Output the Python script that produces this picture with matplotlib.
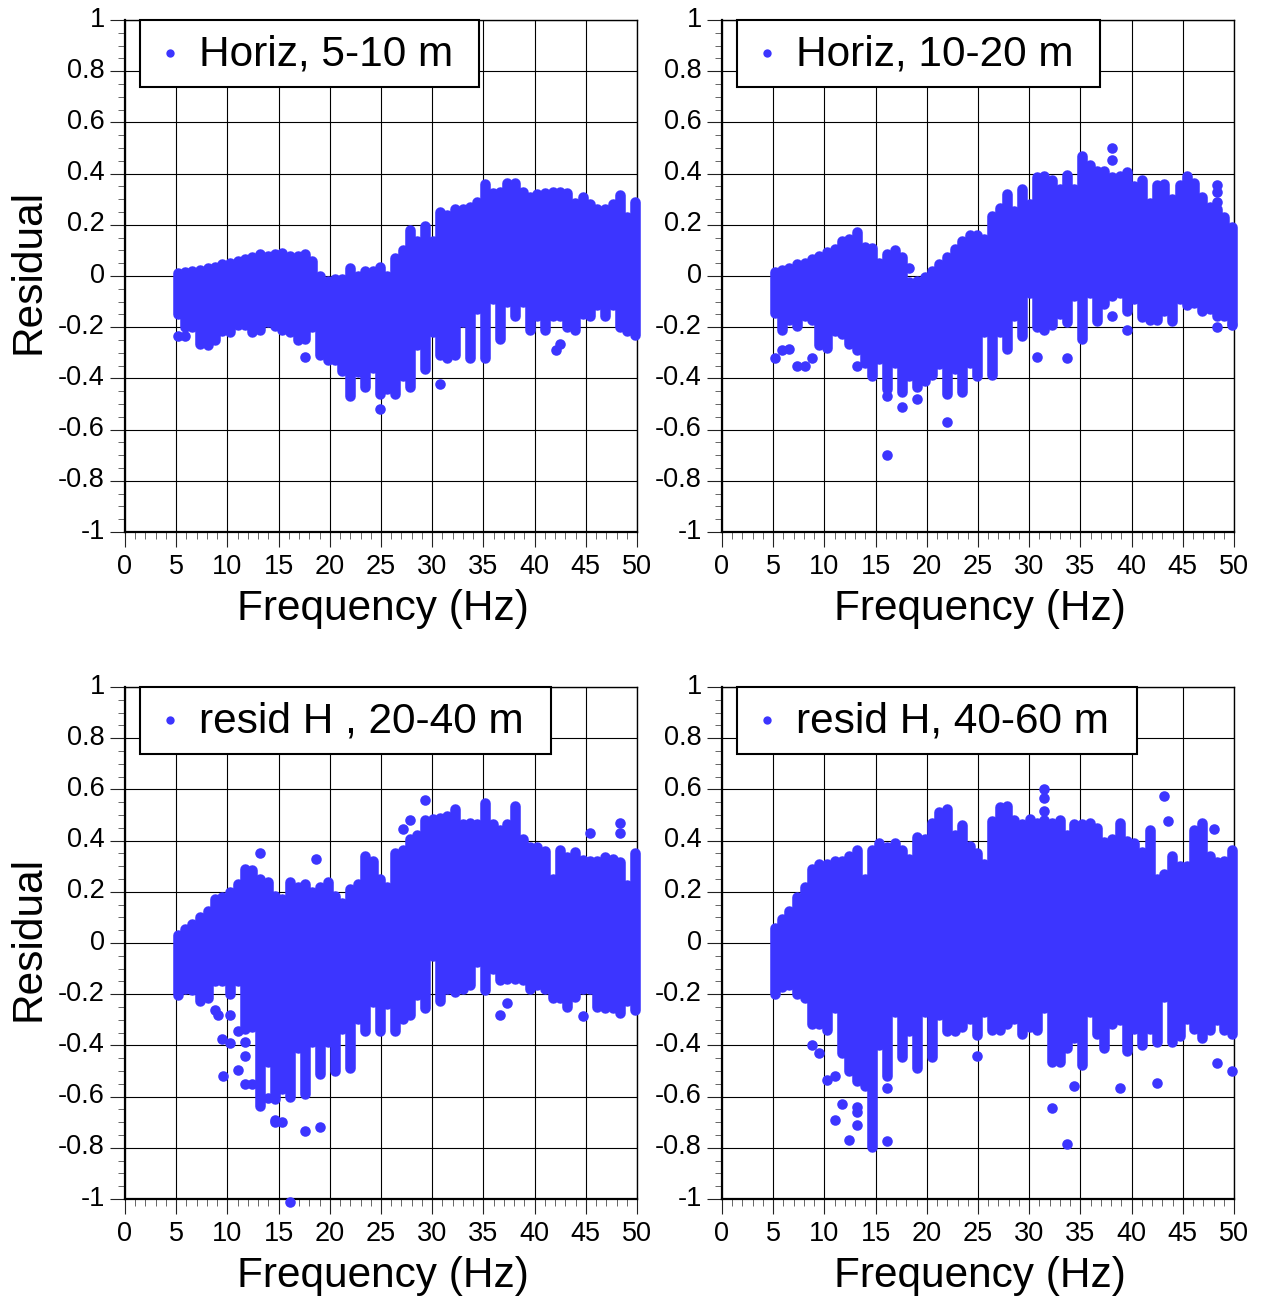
import matplotlib as mpl
mpl.use('agg')
import matplotlib.pyplot as plt
from matplotlib.patches import Rectangle
from matplotlib.transforms import ScaledTranslation

plt.rc('font', family=['Liberation Sans', 'DejaVu Sans'])

W, H = 1262, 1297
DOT = '#3c35ff'

# frequency columns of the measurements, Hz
freq = [5.13, 5.86, 6.59, 7.33, 8.06, 8.79, 9.52, 10.25, 10.99, 11.72,
        12.45, 13.18, 13.92, 14.65, 15.38, 16.11, 16.85, 17.58, 18.31, 19.04,
        19.78, 20.51, 21.24, 21.97, 22.71, 23.44, 24.17, 24.90, 25.63, 26.37,
        27.10, 27.83, 28.56, 29.30, 30.03, 30.76, 31.49, 32.23, 32.96, 33.69,
        34.42, 35.16, 35.89, 36.62, 37.35, 38.09, 38.82, 39.55, 40.28, 41.02,
        41.75, 42.48, 43.21, 43.95, 44.68, 45.41, 46.14, 46.88, 47.61, 48.34,
        49.07, 49.80]

# top and bottom of the dot column at each frequency
hi_a = [.01, .015, .02, .025, .03, .035, .045, .05, .06, .065,
        .075, .085, .08, .085, .09, .08, .08, .085, .06, 0,
        -.02, -.01, -.01, .03, 0, .02, .02, .035, 0, .07,
        .10, .18, .135, .195, .135, .25, .24, .26, .26, .27,
        .29, .36, .325, .33, .365, .365, .33, .31, .32, .325,
        .33, .33, .325, .285, .31, .28, .26, .26, .28, .315,
        .23, .29]
lo_a = [-.15, -.2, -.2, -.265, -.27, -.25, -.215, -.22, -.19, -.19,
        -.22, -.21, -.18, -.195, -.21, -.22, -.25, -.245, -.2, -.31,
        -.33, -.33, -.37, -.47, -.375, -.435, -.36, -.46, -.44, -.46,
        -.39, -.435, -.27, -.365, -.22, -.31, -.32, -.31, -.18, -.32,
        -.13, -.32, -.09, -.245, -.1, -.155, -.1, -.21, -.155, -.21,
        -.155, -.155, -.2, -.21, -.15, -.155, -.115, -.155, -.115, -.2,
        -.215, -.23]
out_f_a = [5.13, 5.86, 17.58, 24.90, 30.76, 42.10, 42.50]
out_r_a = [-.235, -.235, -.315, -.52, -.42, -.29, -.265]

hi_b = [.015, .025, .03, .045, .05, .065, .08, .095, .105, .135,
        .145, .17, .115, .11, .05, .085, .10, .075, -.025, -.02,
        -.005, .02, .045, .075, .105, .135, .16, .16, .145, .235,
        .265, .32, .255, .34, .28, .385, .39, .375, .34, .395,
        .34, .47, .435, .41, .41, .385, .39, .405, .35, .375,
        .285, .355, .36, .30, .355, .39, .365, .31, .27, .26,
        .23, .19]
lo_b = [-.145, -.21, -.17, -.195, -.155, -.17, -.27, -.28, -.215, -.225,
        -.265, -.29, -.34, -.39, -.325, -.44, -.34, -.455, -.39, -.435,
        -.41, -.385, -.345, -.46, -.365, -.455, -.34, -.39, -.22, -.385,
        -.22, -.285, -.155, -.235, -.065, -.2, -.21, -.19, -.15, -.18,
        -.08, -.245, -.065, -.175, -.11, -.08, -.065, -.135, -.09, -.16,
        -.17, -.17, -.135, -.175, -.09, -.115, -.105, -.135, -.13, -.155,
        -.155, -.185]
out_f_b = [18.31, 38.09, 38.09, 48.34, 48.34, 48.34, 5.13, 5.86, 6.59, 7.33,
           8.06, 8.79, 13.18, 16.11, 16.11, 17.58, 19.04, 21.97, 30.76, 33.69,
           38.09, 39.55, 48.34, 49.80]
out_r_b = [.03, .50, .455, .355, .33, .29, -.32, -.29, -.285, -.35,
           -.35, -.32, -.35, -.47, -.70, -.51, -.48, -.57, -.315, -.32,
           -.155, -.21, -.20, -.19]

hi_c = [.03, .055, .075, .10, .125, .17, .18, .20, .23, .29,
        .285, .25, .24, .185, .17, .24, .22, .23, .20, .22,
        .24, .185, .155, .21, .23, .34, .32, .25, .22, .35,
        .365, .405, .42, .48, .485, .49, .495, .525, .465, .47,
        .465, .545, .465, .44, .465, .535, .405, .375, .375, .36,
        .25, .365, .335, .355, .325, .32, .32, .335, .33, .315,
        .225, .35]
lo_c = [-.205, -.18, -.185, -.225, -.215, -.15, -.15, -.20, -.15, -.335,
        -.33, -.635, -.465, -.61, -.57, -.60, -.41, -.59, -.385, -.51,
        -.385, -.50, -.335, -.49, -.295, -.345, -.23, -.345, -.24, -.345,
        -.295, -.28, -.205, -.255, -.05, -.225, -.18, -.19, -.18, -.165,
        -.075, -.185, -.10, -.145, -.14, -.14, -.145, -.18, -.165, -.18,
        -.215, -.215, -.25, -.21, -.18, -.18, -.25, -.255, -.255, -.275,
        -.225, -.26]
out_f_c = [13.18, 18.67, 27.10, 27.83, 29.30, 45.41, 48.34, 48.34, 8.79, 9.10,
           9.52, 9.54, 10.25, 10.25, 10.99, 10.99, 11.72, 11.72, 11.72, 12.45,
           13.92, 14.65, 14.65, 15.38, 16.11, 17.58, 19.04, 36.62, 37.35, 44.68]
out_r_c = [.35, .33, .445, .48, .56, .43, .47, .43, -.26, -.28,
           -.375, -.52, -.39, -.28, -.345, -.495, -.385, -.44, -.55, -.55,
           -.605, -.69, -.70, -.70, -1.01, -.735, -.72, -.28, -.235, -.285]

hi_d = [.06, .095, .125, .18, .22, .29, .31, .31, .32, .32,
        .34, .365, .25, .365, .39, .375, .39, .365, .33, .415,
        .405, .47, .51, .525, .42, .46, .38, .35, .31, .475,
        .53, .535, .48, .465, .485, .47, .48, .47, .48, .42,
        .465, .465, .47, .45, .395, .405, .47, .40, .39, .355,
        .44, .25, .27, .34, .30, .30, .44, .47, .34, .315,
        .32, .365]
lo_d = [-.20, -.17, -.165, -.20, -.215, -.315, -.315, -.34, -.255, -.43,
        -.50, -.54, -.56, -.795, -.40, -.52, -.27, -.445, -.345, -.49,
        -.27, -.445, -.28, -.345, -.345, -.33, -.295, -.36, -.27, -.34,
        -.34, -.315, -.295, -.355, -.33, -.34, -.255, -.465, -.465, -.41,
        -.37, -.475, -.27, -.355, -.41, -.315, -.30, -.42, -.335, -.40,
        -.335, -.385, -.21, -.385, -.365, -.295, -.335, -.37, -.34, -.30,
        -.34, -.355]
out_f_d = [31.49, 31.49, 31.49, 43.21, 43.55, 48.00, 8.79, 9.52, 10.25, 10.99,
           10.99, 11.72, 12.45, 13.18, 13.18, 13.18, 16.11, 16.11, 24.90, 32.23,
           33.69, 34.42, 38.82, 42.48, 48.34, 49.80]
out_r_d = [.60, .565, .515, .575, .475, .445, -.40, -.43, -.535, -.52,
           -.69, -.63, -.77, -.64, -.66, -.71, -.565, -.775, -.44, -.645,
           -.785, -.56, -.565, -.545, -.47, -.50]

x_ticks = [0, 5, 10, 15, 20, 25, 30, 35, 40, 45, 50]
y_ticks = [-1, -.8, -.6, -.4, -.2, 0, .2, .4, .6, .8, 1]
y_labels = ['-1', '-0.8', '-0.6', '-0.4', '-0.2', '0', '0.2', '0.4', '0.6', '0.8', '1']

# label, columns top/bottom, single dots, left and top pixel, legend box right in Hz
panels = [('Horiz, 5-10 m', hi_a, lo_a, out_f_a, out_r_a, 125, 20, 34.6),
          ('Horiz, 10-20 m', hi_b, lo_b, out_f_b, out_r_b, 722, 20, 36.9),
          ('resid H , 20-40 m', hi_c, lo_c, out_f_c, out_r_c, 125, 687, 41.6),
          ('resid H, 40-60 m', hi_d, lo_d, out_f_d, out_r_d, 722, 687, 40.5)]

fig = plt.figure(figsize=(W / 100, H / 100), dpi=100)

for label, hi, lo, of, orr, px, py, box_r in panels:
    ax = fig.add_axes([px / W, 1 - (py + 512) / H, 512 / W, 512 / H])
    ax.set_xlim(0, 50)
    ax.set_ylim(-1, 1)
    ax.set_axisbelow(True)
    ax.grid(True, which='major', color='k', lw=0.8)

    ax.vlines(freq, lo, hi, color=DOT, lw=7.6, capstyle='round', zorder=3, clip_on=False)
    ax.plot(of, orr, 'o', color=DOT, ms=7.6, mew=0, zorder=3, clip_on=False)

    ax.set_xticks(x_ticks)
    ax.set_yticks(y_ticks)
    ax.set_yticklabels(y_labels)
    ax.set_xticks(range(0, 51), minor=True)
    ax.set_yticks([i * .05 - 1 for i in range(41)], minor=True)
    ax.tick_params(which='major', length=10.5, width=0.8, labelsize=19.5, pad=4, color='#222222')
    ax.tick_params(axis='x', which='major', pad=5.5)
    ax.tick_params(which='minor', length=5, width=0.7, color='#666666')
    # y tick labels sit a little above their ticks
    up = ScaledTranslation(0, 2.5 / 72, fig.dpi_scale_trans)
    for t in ax.get_yticklabels():
        t.set_transform(t.get_transform() + up)
    for side, lw in [('left', 1.6), ('bottom', 1.6), ('top', 1.0), ('right', 1.0)]:
        ax.spines[side].set_linewidth(lw)

    ax.set_xlabel('Frequency (Hz)', fontsize=30.5, labelpad=6)
    ax.xaxis.label.set_x(.504)
    if px < 300:
        ax.set_ylabel('Residual', fontsize=30.5, labelpad=6.5)
        ax.yaxis.label.set_y(.508)

    ax.add_patch(Rectangle((1.46, .738), box_r - 1.46, 1 - .738, fc='white', ec='k',
                           lw=1.5, zorder=5, clip_on=False))
    ax.plot([4.4], [.871], 'o', color=DOT, ms=6, mew=0, zorder=6)
    ax.text(7.2, .824, label, fontsize=30.5, va='baseline', ha='left', zorder=6)

fig.savefig('out.png', dpi=100)
